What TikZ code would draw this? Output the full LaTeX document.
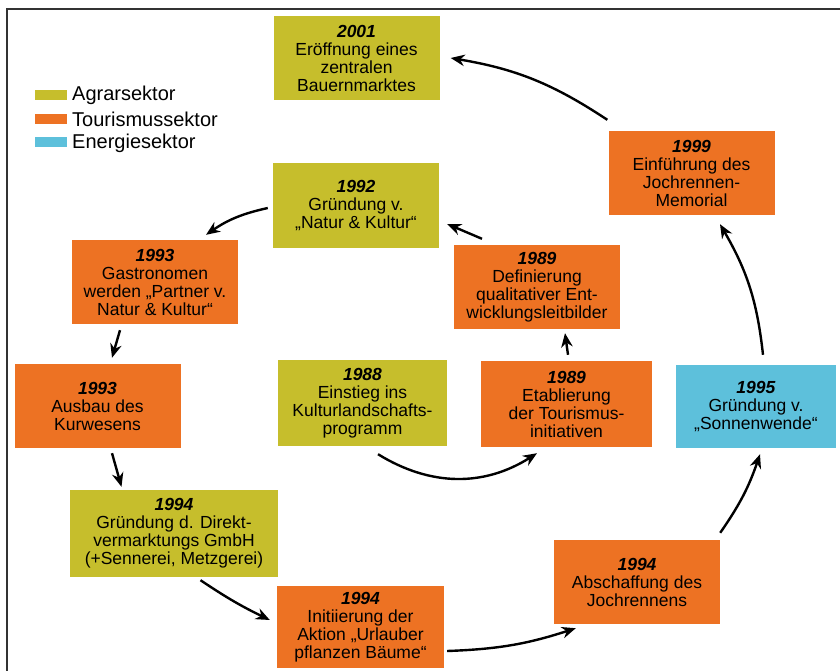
\documentclass[tikz,border=0pt]{standalone}
\usepackage{fontspec}
\setmainfont{Liberation Sans}
\usetikzlibrary{arrows.meta}
\definecolor{agrar}{RGB}{198,190,44}
\definecolor{tour}{RGB}{237,114,35}
\definecolor{energie}{RGB}{93,192,219}
\newcommand{\yr}[1]{\textbf{\textit{#1}}}

\begin{document}
\begin{tikzpicture}[x=1pt,y=1pt,
  box/.style={minimum width=166pt, minimum height=84pt, inner sep=0pt, align=center,
    font=\fontsize{17.5}{18}\selectfont},
  leg/.style={minimum width=32pt, minimum height=10pt, inner sep=0pt},
  legtxt/.style={anchor=west, inner sep=0pt, font=\fontsize{20}{22}\selectfont},
  sig/.style={-{Stealth[length=14pt,width=11.5pt]}, line width=2.4pt}]
\useasboundingbox[fill=white] (0,0) rectangle (840,-671);
\draw[line width=2pt, black!80] (6.5,-690) |- (860,-9);
\node[leg,fill=agrar] (lagrar) at (51,-95) {};
\node[leg,fill=tour] (ltour) at (51,-119) {};
\node[leg,fill=energie] (lenergie) at (51,-142.5) {};
\node[legtxt] (tagrar) at (72,-95.5) {Agrarsektor};
\node[legtxt] (ttour) at (72,-119.5) {Tourismussektor};
\node[legtxt] (tenergie) at (72,-143) {Energiesektor};
\node[box,fill=agrar] (y2001) at (356.5,-58) {\yr{2001}\\Eröffnung eines\\zentralen\\Bauernmarktes};
\node[box,fill=tour] (y1999) at (691.5,-173) {\yr{1999}\\Einführung des\\Jochrennen-\\Memorial};
\node[box,fill=agrar] (y1992) at (356,-205.5) {\yr{1992}\\Gründung v.\\„Natur \& Kultur“};
\node[box,fill=tour] (y1993a) at (155,-282) {\yr{1993}\\Gastronomen\\werden „Partner v.\\Natur \& Kultur“};
\node[box,fill=tour] (y1989a) at (537,-287) {\yr{1989}\\Definierung\\qualitativer Ent-\\wicklungsleitbilder};
\node[box,fill=tour] (y1993b) at (97.5,-406) {\yr{1993}\\Ausbau des\\Kurwesens};
\node[box,fill=agrar,minimum width=169pt,minimum height=86pt] (y1988) at (362.5,-403) {\yr{1988}\\Einstieg ins\\Kulturlandschafts-\\programm};
\node[box,fill=tour,minimum width=171pt,minimum height=86pt] (y1989b) at (566.5,-404) {\yr{1989}\\Etablierung\\der Tourismus-\\initiativen};
\node[box,fill=energie,minimum width=160pt,minimum height=83pt] (y1995) at (756,-406.5) {\yr{1995}\\Gründung v.\\„Sonnenwende“};
\node[box,fill=agrar,minimum width=208pt,minimum height=87pt] (y1994a) at (174,-533.5) {\yr{1994}\\Gründung d. Direkt-\\vermarktungs GmbH\\(+Sennerei, Metzgerei)};
\node[box,fill=tour,minimum width=167pt,minimum height=82pt] (y1994b) at (360.5,-627) {\yr{1994}\\Initiierung der\\Aktion „Urlauber\\pflanzen Bäume“};
\node[box,fill=tour] (y1994c) at (637,-582) {\yr{1994}\\Abschaffung des\\Jochrennens};
\draw[sig] ([shift={(-1,11)}]y1999.north west) to[bend right=12] ([shift={(11,0)}]y2001.east);
\draw[sig] ([shift={(7,10)}]y1995.north) to[bend right=12] ([shift={(28.5,-9)}]y1999.south);
\draw[sig] ([shift={(0,7)}]y1994c.north east) to[bend right=8] ([shift={(4,-6)}]y1995.south);
\draw[sig] ([shift={(3,-24)}]y1994b.east) to[bend right=8] ([shift={(22,-4)}]y1994c.south west);
\draw[sig] ([shift={(26.5,-3)}]y1994a.south) to[bend right=4] ([shift={(-7,7)}]y1994b.west);
\draw[sig] ([shift={(14.5,-5)}]y1993b.south) -- ([shift={(-52.5,3)}]y1994a.north);
\draw[sig] ([shift={(-35,-6)}]y1993a.south) -- ([shift={(14.5,6)}]y1993b.north);
\draw[sig] ([shift={(-5,-2.5)}]y1992.west) to[bend right=11] ([shift={(51,5)}]y1993a.north);
\draw[sig] ([shift={(-55,6)}]y1989a.north) -- ([shift={(8,-18.5)}]y1992.east);
\draw[sig] ([shift={(1.5,6)}]y1989b.north) -- ([shift={(28,-4)}]y1989a.south);
\draw[sig] ([shift={(15.5,-8)}]y1988.south) to[bend right=32] ([shift={(-29.5,-6)}]y1989b.south);
\end{tikzpicture}
\end{document}
